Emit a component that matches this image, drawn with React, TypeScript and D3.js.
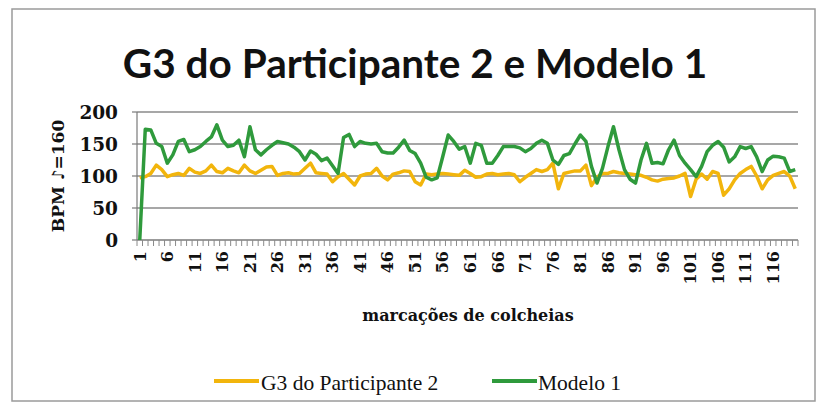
import React from 'react';
import * as d3 from 'd3';

const categories: number[] = d3.range(1, 121);

const participante: number[] = [
  97, 99, 104, 117, 110, 99, 102, 104, 101, 112,
  106, 104, 108, 117, 107, 105, 112, 108, 105, 117,
  108, 104, 109, 114, 115, 101, 104, 105, 103, 104,
  112, 120, 105, 104, 103, 91, 99, 104, 95, 86,
  100, 103, 104, 112, 100, 94, 103, 105, 108, 107,
  91, 86, 103, 102, 103, 104, 103, 102, 101, 109,
  104, 98, 99, 103, 104, 102, 103, 104, 102, 91,
  98, 104, 110, 107, 110, 120, 80, 104, 106, 108,
  108, 117, 85, 98, 104, 104, 107, 105, 104, 103,
  102, 101, 98, 94, 92, 95, 96, 97, 100, 104,
  68, 95, 103, 95, 107, 104, 70, 80, 94, 104,
  110, 115, 100, 80, 94, 101, 104, 107, 100, 80,
];

const modelo: number[] = [
  0, 173, 172, 151, 146, 120, 133, 154, 157, 138,
  141, 146, 154, 161, 180, 156, 146, 148, 156, 130,
  177, 141, 133, 141, 148, 154, 152, 150, 145, 138,
  125, 139, 134, 124, 128, 116, 104, 160, 165, 146,
  154, 151, 150, 151, 138, 136, 136, 145, 156, 140,
  135, 120, 98, 94, 97, 130, 164, 154, 142, 146,
  120, 151, 148, 120, 120, 132, 146, 146, 146, 144,
  138, 143, 151, 156, 151, 125, 118, 132, 135, 150,
  164, 154, 115, 89, 112, 146, 177, 141, 110, 95,
  89, 125, 151, 120, 121, 119, 141, 156, 132, 120,
  110, 99, 115, 138, 148, 154, 145, 122, 130, 146,
  143, 146, 130, 107, 125, 131, 130, 128, 107, 110,
];

const yTicks: number[] = [0, 50, 100, 150, 200];
const xTickLabels: string[] = [
  '1', '6', '11', '16', '21', '26', '31', '36', '41', '46', '51', '56',
  '61', '66', '71', '76', '81', '86', '91', '96', '101', '106', '111', '116',
];

const seriesNames = ['G3 do Participante 2', 'Modelo 1'];
const title = 'G3 do Participante 2 e Modelo 1';
const yTitle = 'BPM \u266A=160';
const xTitle = 'marcações de colcheias';

const YELLOW = '#F2B50C';
const GREEN = '#2F9A3C';
const SERIF_B = '"DejaVu Serif", "Liberation Serif", serif';
const SERIF = '"Liberation Serif", "DejaVu Serif", serif';

export default function App() {
  const W = 826;
  const H = 414;
  const x = d3.scaleBand<string>().domain(categories.map(String)).range([137, 798]);
  const y = d3.scaleLinear().domain([0, 200]).range([240, 112]);
  const cx = (i: number) => (x(String(categories[i])) as number) + x.bandwidth() / 2;
  const line = d3.line<number>().x((_, i) => cx(i)).y((d) => y(d));

  return (
    <div style={{ position: 'absolute', left: 0, top: 0 }}>
      <svg width={W} height={H} style={{ display: 'block', background: '#fff' }}>
        <rect x={12} y={9} width={803} height={392} fill="#fff" stroke="#9a9a9a" strokeWidth={1.5} />
        <text x={415} y={78} textAnchor="middle" fontFamily="Lato, 'Open Sans', sans-serif" fontWeight={700} fontSize={40.5} fill="#111">
          {title}
        </text>
        {/* gridlines */}
        {yTicks.filter((t) => t > 0).map((t) => (
          <line key={t} x1={137} x2={798} y1={y(t)} y2={y(t)} stroke="#8a8a8a" strokeWidth={1.5} />
        ))}
        {/* y axis */}
        <line x1={137} x2={137} y1={112} y2={240} stroke="#7a7a7a" strokeWidth={1.2} />
        {yTicks.map((t) => (
          <g key={t}>
            <line x1={132} x2={137} y1={y(t)} y2={y(t)} stroke="#7a7a7a" strokeWidth={1.2} />
            <text x={118} y={y(t)} dy="0.36em" textAnchor="end" fontFamily={SERIF_B} fontWeight={700} fontSize={18.5} fill="#111">
              {t}
            </text>
          </g>
        ))}
        {/* x axis */}
        <line x1={137} x2={798} y1={240} y2={240} stroke="#7a7a7a" strokeWidth={1.5} />
        {d3.range(categories.length + 1).map((i) => {
          const xx = 137 + i * x.bandwidth();
          return <line key={i} x1={xx} x2={xx} y1={240} y2={246} stroke="#8a8a8a" strokeWidth={1} />;
        })}
        {xTickLabels.map((lab) => {
          const idx = categories.indexOf(+lab);
          const xx = cx(idx);
          return (
            <text key={lab} transform={`translate(${xx},${251}) rotate(-90)`} dy="0.36em" textAnchor="end" fontFamily={SERIF_B} fontWeight={700} fontSize={16} fill="#111">
              {lab}
            </text>
          );
        })}
        <text x={468} y={321} textAnchor="middle" fontFamily={SERIF_B} fontWeight={700} fontSize={16} fill="#111">
          {xTitle}
        </text>
        <text transform={`translate(64,176) rotate(-90)`} textAnchor="middle" fontFamily={SERIF_B} fontWeight={700} fontSize={17} fill="#111">
          {yTitle}
        </text>
        {/* series */}
        <path d={line(participante) || ''} fill="none" stroke={YELLOW} strokeWidth={3.5} strokeLinejoin="round" />
        <path d={line(modelo) || ''} fill="none" stroke={GREEN} strokeWidth={3.5} strokeLinejoin="round" />
        {/* legend */}
        <line x1={214} x2={259} y1={381} y2={381} stroke={YELLOW} strokeWidth={4} />
        <text x={261} y={382} dy="0.35em" fontFamily={SERIF} fontSize={21.5} fill="#111">{seriesNames[0]}</text>
        <line x1={492} x2={537} y1={381} y2={381} stroke={GREEN} strokeWidth={4} />
        <text x={538} y={382} dy="0.35em" fontFamily={SERIF} fontSize={21.5} fill="#111">{seriesNames[1]}</text>
      </svg>
    </div>
  );
}
